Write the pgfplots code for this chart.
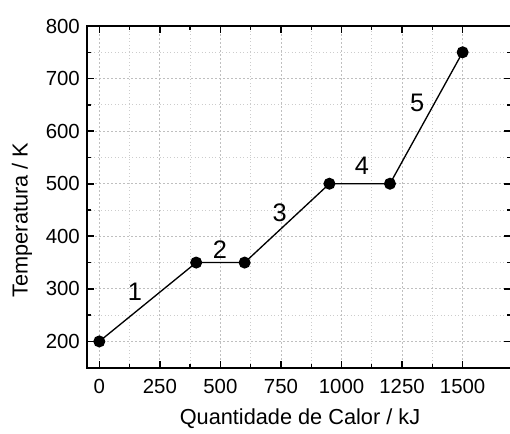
\documentclass[border=0pt]{standalone}
\usepackage{pgfplots}
\pgfplotsset{compat=1.18}
\usepackage{fontspec}
\setmainfont{Liberation Sans}
\begin{document}
\begin{tikzpicture}
\begin{axis}[
  name=ax,
  scale only axis,
  width=317.9pt, height=256.3pt,
  xmin=-50, xmax=1700, ymin=150, ymax=800,
  xtick={0,250,...,1500},
  ytick={200,300,...,800},
  minor x tick num=1, minor y tick num=1,
  tick align=inside,
  major tick length=5pt, minor tick length=3pt,
  tick style={black, line width=1.2pt},
  minor tick style={black, line width=1pt},
  axis line style={line width=1.7pt},
  grid=both,
  major grid style={gray!50, line width=0.6pt, dash pattern=on 1.5pt off 1.5pt},
  minor grid style={gray!40, line width=0.6pt, dotted},
  /pgf/number format/assume math mode=true,
  /pgf/number format/1000 sep={},
  ticklabel style={font=\fontsize{15.3}{17}\selectfont},
  yticklabel style={xshift=-2pt},
  xticklabel style={yshift=-5pt},
  xlabel={Quantidade de Calor / kJ},
  ylabel={Temperatura / K},
  label style={font=\fontsize{16.3}{18}\selectfont},
  xlabel style={at={(axis description cs:0.502,-0.150)}, anchor=center},
  ylabel style={at={(axis description cs:-0.154,0.432)}, anchor=center},
  clip=false,
]
\addplot[black, line width=1pt, mark=*, mark size=4pt, mark options={fill=black}]
  coordinates {(0,200) (400,350) (600,350) (950,500) (1200,500) (1500,750)};
\node[font=\fontsize{19}{21}\selectfont] at (axis cs:147,295) {1};
\node[font=\fontsize{19}{21}\selectfont] at (axis cs:498,374) {2};
\node[font=\fontsize{19}{21}\selectfont] at (axis cs:745,445) {3};
\node[font=\fontsize{19}{21}\selectfont] at (axis cs:1084,535) {4};
\node[font=\fontsize{19}{21}\selectfont] at (axis cs:1312,653) {5};
\end{axis}
\pgfresetboundingbox
\path[use as bounding box] ([shift={(-65.4pt,-49pt)}]ax.south west) rectangle ([shift={(-0.8pt,19.5pt)}]ax.north east);
\end{tikzpicture}
\end{document}
